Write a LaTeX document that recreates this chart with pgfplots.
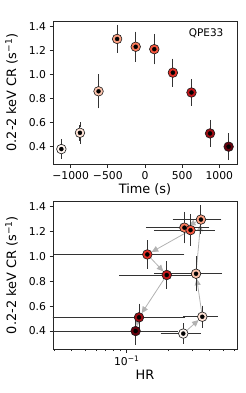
\documentclass[border=0pt]{standalone}
\usepackage{fontspec}
\setmainfont{DejaVu Sans}
\usepackage{pgfplots}
\pgfplotsset{compat=1.18}
\usepackage{pgfplotstable}
\usetikzlibrary{arrows.meta}

\newcommand{\tickfont}{\fontsize{10.8bp}{12bp}\selectfont}
\newcommand{\labfont}{\fontsize{12.9bp}{15bp}\selectfont}

\pgfplotsset{
  colormap={Reds}{rgb255=(255,245,240) rgb255=(254,224,210) rgb255=(252,187,161) rgb255=(252,146,114) rgb255=(251,106,74) rgb255=(239,59,44) rgb255=(203,24,29) rgb255=(165,15,21) rgb255=(103,0,13)},
  myaxis/.style={
    scale only axis, width=184bp,
    axis line style={line width=0.8bp, black!85},
    tick pos=left, tick align=outside,
    major tick length=3.5bp, minor tick length=2bp,
    every tick/.style={line width=0.8bp, black!85},
    xticklabel style={font=\tickfont},
    yticklabel style={font=\tickfont},
    ymin=0.256, ymax=1.444,
    ytick={0.4,0.6,0.8,1.0,1.2,1.4},
    yticklabels={0.4,0.6,0.8,1.0,1.2,1.4},
    ylabel={0.2-2 keV CR (s\textsuperscript{−1})},
    every axis y label/.style={at={(axis description cs:-0.225,0.5)}, rotate=90, anchor=center, font=\labfont},
  },
  pts/.style={scatter, only marks, mark=*, mark size=4.8bp,
    point meta=\thisrow{i}, point meta min=0, point meta max=9,
    scatter/use mapped color={draw=black!90, fill=mapped color, line width=0.6bp}},
  ebar/.style={only marks, mark=none,
    error bars/error bar style={line width=0.9bp, black!80},
    error bars/error mark options={mark size=2.6bp, line width=0.9bp, black!80}},
  arr/.style={draw=black!30, line width=0.8bp, shorten >=5bp, shorten <=5bp,
    -{Triangle[length=6.5bp,width=6bp]}},
}

\pgfplotstableread{
t cr err i
-1125 0.38 0.06 0
-875 0.515 0.068 1
-625 0.86 0.12 2
-375 1.295 0.095 3
-125 1.23 0.105 4
125 1.21 0.105 5
375 1.015 0.095 6
625 0.85 0.09 7
875 0.51 0.09 8
1125 0.40 0.09 9
}\topdata

\pgfplotstableread{
hr cr xp xm ye i
0.257 0.38 0.073 0.073 0.06 0
0.353 0.515 0.085 0.085 0.068 1
0.318 0.86 0.152 0.152 0.12 2
0.345 1.295 0.12 0.12 0.095 3
0.262 1.23 0.118 0.118 0.105 4
0.290 1.21 0.126 0.126 0.105 5
0.141 1.015 0.11 0.11 0.095 6
0.195 0.85 0.103 0.103 0.09 7
0.1227 0.51 0.132 0.118 0.09 8
0.116 0.40 0.108 0.108 0.09 9
}\botdata

\begin{document}
\begin{tikzpicture}
\path[use as bounding box] (0,0) rectangle (246bp,-393bp);

\begin{axis}[myaxis, at={(53bp,-21bp)}, anchor=north west, height=143bp,
  xmin=-1237.5, xmax=1237.5,
  xtick={-1000,-500,0,500,1000},
  xticklabels={−1000,−500,0,500,1000},
  xlabel={Time (s)},
  every axis x label/.style={at={(axis description cs:0.5,0)}, anchor=center, yshift=-25bp, font=\labfont},
]
\addplot[pts] table[x=t, y=cr] {\topdata};
\addplot[ebar, error bars/y dir=both, error bars/y explicit] table[x=t, y=cr, y error=err] {\topdata};
\node[anchor=east, font=\fontsize{10.5bp}{12bp}\selectfont] at (rel axis cs:0.945,0.915) {QPE33};
\end{axis}

\begin{axis}[myaxis, at={(53bp,-201bp)}, anchor=north west, height=148bp,
  xmode=log, xmin=0.0292, xmax=0.63,
  xtick={0.1}, xticklabels={10\textsuperscript{−1}},
  minor xtick={0.03,0.04,0.05,0.06,0.07,0.08,0.09,0.2,0.3,0.4,0.5,0.6},
  xlabel={HR},
  every axis x label/.style={at={(axis description cs:0.5,0)}, anchor=center, yshift=-26bp, font=\labfont},
  clip=true,
]
\addplot[arr] coordinates {(0.257,0.38) (0.353,0.515)};
\addplot[arr] coordinates {(0.353,0.515) (0.318,0.86)};
\addplot[arr] coordinates {(0.318,0.86) (0.345,1.295)};
\addplot[arr] coordinates {(0.345,1.295) (0.262,1.23)};
\addplot[arr] coordinates {(0.262,1.23) (0.290,1.21)};
\addplot[arr] coordinates {(0.290,1.21) (0.141,1.015)};
\addplot[arr] coordinates {(0.141,1.015) (0.195,0.85)};
\addplot[arr] coordinates {(0.195,0.85) (0.1227,0.51)};
\addplot[arr] coordinates {(0.1227,0.51) (0.116,0.40)};
\addplot[pts] table[x=hr, y=cr] {\botdata};
\addplot[ebar, error bars/x dir=both, error bars/x explicit, error bars/y dir=both, error bars/y explicit]
  table[x=hr, y=cr, x error plus=xp, x error minus=xm, y error=ye] {\botdata};
\end{axis}
\end{tikzpicture}
\end{document}
